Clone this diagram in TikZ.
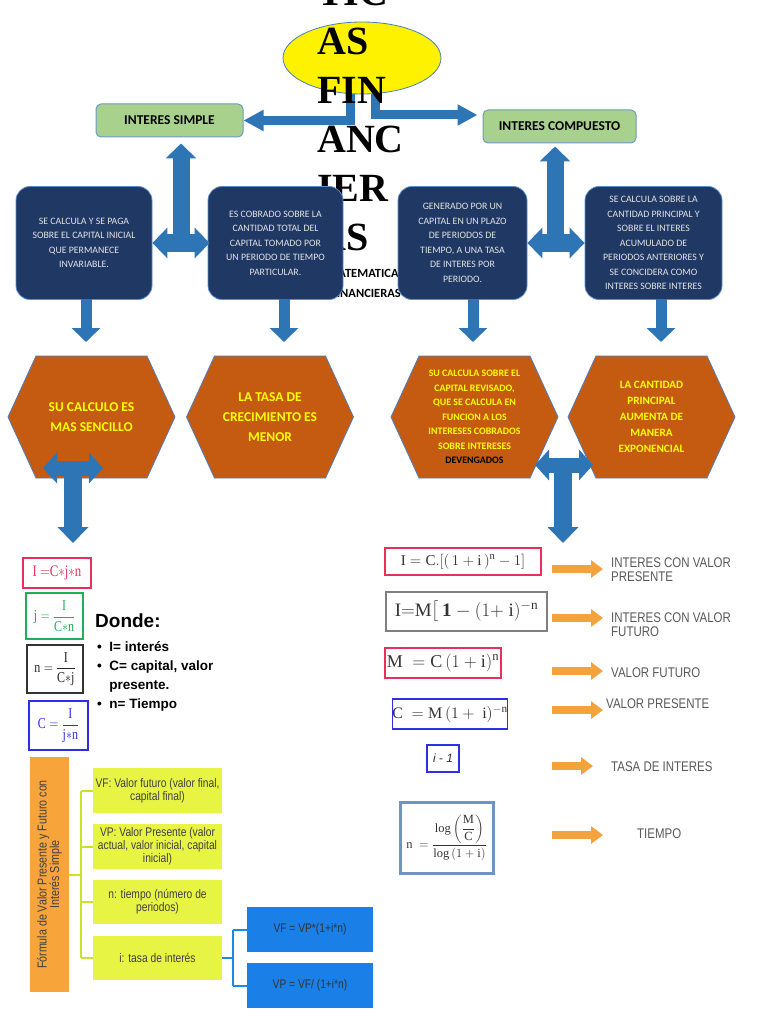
\RequirePackage{fix-cm}
\documentclass[tikz,border=0pt]{standalone}
\usepackage{amsmath}
\usepackage{fontspec}
\usepackage{graphicx}
\usetikzlibrary{arrows.meta,calc,shapes.geometric}
\setmainfont{Liberation Serif}
\newfontfamily\calfont{Carlito}
\newfontfamily\arialf{Liberation Sans}
\newfontfamily\narrowf[FakeStretch=0.82]{Liberation Sans}
\newfontfamily\titlef{Liberation Serif}
\definecolor{arrblue}{HTML}{2E75B6}
\definecolor{navybox}{HTML}{203864}
\definecolor{navybd}{HTML}{5B8FC9}
\definecolor{boxtxt}{HTML}{E4E4E4}
\definecolor{hexor}{HTML}{C55A11}
\definecolor{hexbd}{HTML}{4F7EC0}
\definecolor{hexyel}{HTML}{FFFF00}
\definecolor{grn}{HTML}{A9D18E}
\definecolor{grnbd}{HTML}{6A9BC9}
\definecolor{ellbd}{HTML}{4A7EBB}
\definecolor{orA}{HTML}{F4A23C}
\definecolor{lblgray}{HTML}{595959}
\definecolor{ylwbox}{HTML}{E8F444}
\definecolor{ylwln}{HTML}{C9E22A}
\definecolor{obox}{HTML}{F7A43A}
\definecolor{bbox}{HTML}{1A7FE6}
\definecolor{bln}{HTML}{1E88E5}
\definecolor{fred}{HTML}{E8305A}
\definecolor{fgreen}{HTML}{1FAF5A}
\definecolor{fblue}{HTML}{2E2EE6}
\definecolor{fgray}{HTML}{7F7F7F}
\definecolor{fsteel}{HTML}{7093C6}
\definecolor{ftxt}{HTML}{333333}
\definecolor{treetxt}{HTML}{404040}
\tikzset{
  darkbox/.style={rectangle, rounded corners=14pt, fill=navybox, draw=navybd, line width=0.8pt,
    minimum width=136pt, minimum height=113pt, align=center, text=boxtxt, inner sep=0pt,
    font=\calfont\fontsize{9.8}{14.5}\selectfont},
  hexfill/.style={fill=hexor, draw=hexbd, line width=0.8pt},
  hexnode/.style={align=center, text=hexyel, inner sep=0pt},
  gbox/.style={rectangle, rounded corners=5pt, fill=grn, draw=grnbd, line width=1pt,
    font=\calfont\bfseries\fontsize{13.5}{14}\selectfont, minimum height=33pt},
  upT/.style={draw=arrblue, line width=17pt, -{Triangle[width=30pt,length=15pt]}},
  hT/.style={draw=arrblue, line width=18pt, {Triangle[width=30pt,length=15pt]}-{Triangle[width=30pt,length=15pt]}},
  downT/.style={draw=arrblue, line width=18pt, -{Triangle[width=30pt,length=16pt]}},
  hT2/.style={draw=arrblue, line width=15pt, {Triangle[width=30pt,length=14pt]}-{Triangle[width=30pt,length=14pt]}},
  downA/.style={draw=arrblue, line width=11pt, -{Triangle[width=28pt,length=14pt]}},
  elbow/.style={draw=arrblue, line width=9pt, line join=miter, -{Triangle[width=20pt,length=20pt]}},
  oarrow/.style={draw=orA, line width=8pt, -{Triangle[width=17pt,length=12pt]}},
  fbox/.style={rectangle, draw, line width=1.3pt, inner sep=0pt},
  lbl/.style={text=lblgray, align=left, inner sep=0pt, font=\narrowf\fontsize{14}{14}\selectfont},
  titletxt/.style={anchor=base west, inner sep=0pt, font=\titlef\bfseries\fontsize{40}{40}\selectfont},
  ybox/.style={rectangle, fill=ylwbox, minimum width=129pt, minimum height=45pt, align=center,
    text=treetxt, inner sep=0pt, font=\narrowf\fontsize{12.5}{13}\selectfont},
  bbx/.style={rectangle, fill=bbox, minimum width=126pt, minimum height=45pt,
    text=black!80, inner sep=0pt, font=\narrowf\fontsize{12.5}{13}\selectfont},
  yl/.style={draw=ylwln, line width=2pt},
  bl/.style={draw=bln, line width=2pt}
}
% name, cx, cy, font, text
\newcommand{\hexag}[5]{%
  \begin{scope}[shift={(#2,#3)}]
    \draw[hexfill] (-83.5,0) -- (-55.5,-61) -- (55.5,-61) -- (83.5,0) -- (55.5,61) -- (-55.5,61) -- cycle;
  \end{scope}
  \node[hexnode, font={#4}] (#1) at (#2,#3) {#5};}
\begin{document}
\begin{tikzpicture}[x=1pt,y=-1pt]
\useasboundingbox[fill=white] (0,0) rectangle (768,1024);

% ellipse and elbow arrows
\node[ellipse, draw=ellbd, fill=yellow, line width=0.8pt, minimum width=158pt, minimum height=72pt] (ell) at (362,58) {};
\node[gbox, minimum width=147pt] (simple) at (169.5,120.5) {INTERES SIMPLE};
\node[gbox, minimum width=153pt] (comp) at (559.5,126.5) {INTERES COMPUESTO};
\draw[elbow] ([xshift=-12pt]ell.south) |- (simple.east);
\draw[elbow] ([xshift=13pt]ell.south) |- ($(comp.west)+(-5,-11.5)$);

% big title text
\node[titletxt] (t0) at (317,6) {TIC};
\node[titletxt] (t1) at (317,55) {AS};
\node[titletxt] (t2) at (317,104) {FIN};
\node[titletxt] (t3) at (317,153) {ANC};
\node[titletxt] (t4) at (317,202) {IER};
\node[titletxt] (t5) at (317,250) {AS};
\node[align=center, inner sep=0pt, font=\calfont\bfseries\fontsize{12.5}{20}\selectfont] (mf) at (366,283) {MATEMATICAS\\FINANCIERAS};

% dark boxes
\node[darkbox] (b1) at (84,243) {SE CALCULA Y SE PAGA\\SOBRE EL CAPITAL INICIAL\\QUE PERMANECE\\INVARIABLE.};
\node[darkbox, minimum width=135pt] (b2) at (275.5,243) {ES COBRADO SOBRE LA\\CANTIDAD TOTAL DEL\\CAPITAL TOMADO POR\\UN PERIODO DE TIEMPO\\PARTICULAR.};
\node[darkbox, minimum width=129pt] (b3) at (462.5,243) {GENERADO POR UN\\CAPITAL EN UN PLAZO\\DE PERIODOS DE\\TIEMPO, A UNA TASA\\DE INTERES POR\\PERIODO.};
\node[darkbox, minimum width=137pt] (b4) at (653.5,243) {SE CALCULA SOBRE LA\\CANTIDAD PRINCIPAL Y\\SOBRE EL INTERES\\ACUMULADO DE\\PERIODOS ANTERIORES Y\\SE CONCIDERA COMO\\INTERES SOBRE INTERES};

% T arrows from the green boxes
\coordinate (tl) at (181,240);
\coordinate (tr) at (555,240);
\draw[upT] (tl) -- ($(tl |- simple.south)+(0,6)$);
\draw[hT] (b1.east) -- ($(b2.west)+(2,0)$);
\draw[upT] (tr) -- ($(tr |- comp.south)+(0,3)$);
\draw[hT] (b3.east) -- (b4.west);

% hexagons
\hexag{h1}{91.5}{417}{\calfont\bfseries\fontsize{13.5}{20}\selectfont}{SU CALCULO ES\\MAS SENCILLO}
\hexag{h2}{270}{417}{\calfont\bfseries\fontsize{13.5}{20}\selectfont}{LA TASA DE\\CRECIMIENTO ES\\MENOR}
\hexag{h3}{474.5}{417}{\calfont\bfseries\fontsize{9.9}{14.5}\selectfont}{SU CALCULA SOBRE EL\\CAPITAL REVISADO,\\QUE SE CALCULA EN\\FUNCION A LOS\\INTERESES COBRADOS\\SOBRE INTERESES\\\textcolor{black}{DEVENGADOS}}
\hexag{h4}{651.5}{417}{\calfont\bfseries\fontsize{11.2}{16}\selectfont}{LA CANTIDAD\\PRINCIPAL\\AUMENTA DE\\MANERA\\EXPONENCIAL}

% down arrows from dark boxes to hexagons
\coordinate (d1) at (86,299);  \coordinate (e1) at (86,342);
\coordinate (d2) at (284,299); \coordinate (e2) at (284,342);
\coordinate (d3) at (473,299); \coordinate (e3) at (473,342);
\coordinate (d4) at (661,299); \coordinate (e4) at (661,342);
\draw[downA] (d1) -- (e1);
\draw[downA] (d2) -- (e2);
\draw[downA] (d3) -- (e3);
\draw[downA] (d4) -- (e4);

% lower T arrows
\coordinate (ltL) at (43,468); \coordinate (ltR) at (103,468);
\coordinate (ltC) at (73,468); \coordinate (ltD) at (73,543);
\draw[downT] (ltC) -- (ltD);
\draw[hT2] (ltL) -- (ltR);
\coordinate (rtL) at (535,465); \coordinate (rtR) at (593,465);
\coordinate (rtC) at (563,465); \coordinate (rtD) at (563,543);
\draw[downT] (rtC) -- (rtD);
\draw[hT2] (rtL) -- (rtR);

% left formulas
\node[fbox, draw=fred, text=fred, minimum width=68pt, minimum height=30pt] (fI) at (57,573)
  {\fontsize{16}{16}\selectfont\scalebox{0.8}[1]{$\mathrm{I}\ {=}\mathrm{C}{\ast}\mathrm{j}{\ast}\mathrm{n}$}};
\node[fbox, draw=fgreen, text=fgreen, minimum width=57pt, minimum height=46pt] (fj) at (54.5,616)
  {\fontsize{15}{15}\selectfont\scalebox{0.8}[1]{$\mathrm{j}=\dfrac{\mathrm{I}}{\mathrm{C}{\ast}\mathrm{n}}$}};
\node[fbox, draw=black!80, text=black!85, minimum width=56pt, minimum height=48pt] (fn) at (55,669)
  {\fontsize{15}{15}\selectfont\scalebox{0.8}[1]{$\mathrm{n}=\dfrac{\mathrm{I}}{\mathrm{C}{\ast}\mathrm{j}}$}};
\node[fbox, draw=fblue, text=fblue, minimum width=59pt, minimum height=49pt] (fC) at (58.5,725.5)
  {\fontsize{15}{15}\selectfont\scalebox{0.8}[1]{$\mathrm{C}=\dfrac{\mathrm{I}}{\mathrm{j}{\ast}\mathrm{n}}$}};
\node[anchor=base west, inner sep=0pt, font=\arialf\bfseries\fontsize{19}{19}\selectfont] (donde) at (95,627) {Donde:};
\node[anchor=north west, inner sep=0pt, align=left, font=\arialf\bfseries\fontsize{13.5}{19}\selectfont] (vars) at (97,641)
  {\textbullet\ \ I= interés\\\textbullet\ \ C= capital, valor\\\phantom{\textbullet\ \ }presente.\\\textbullet\ \ n= Tiempo};

% right formulas
\node[fbox, draw=fred, line width=1.5pt, text=ftxt, minimum width=156pt, minimum height=27pt] (g1) at (463,561.5)
  {\fontsize{15}{15}\selectfont$\mathrm{I}=\mathrm{C}.[(\,1+\mathrm{i}\,)^{\mathrm{n}}-1]$};
\node[fbox, draw=fgray, line width=2pt, text=ftxt, minimum width=161pt, minimum height=39pt] (g2) at (466.5,611.5)
  {\fontsize{19}{19}\selectfont$\mathrm{I}{=}\mathrm{M}\bigl[\,\mathbf{1}-(1{+}\ \mathrm{i})^{-\mathrm{n}}$};
\node[fbox, draw=fred, line width=1.5pt, text=ftxt, minimum width=116pt, minimum height=30pt] (g3) at (443,663)
  {\fontsize{18}{18}\selectfont$\mathrm{M}\ =\mathrm{C}\,(1+\mathrm{i})^{\mathrm{n}}$};
\node[fbox, draw=fblue, line width=1.3pt, text=ftxt, minimum width=94pt, minimum height=30pt] (g4) at (450,714)
  {\fontsize{16}{16}\selectfont$\mathrm{C}\ =\mathrm{M}\,(1+\ \mathrm{i})^{-\mathrm{n}}$};
\node[fbox, draw=fblue, line width=1.3pt, text=ftxt, minimum width=32pt, minimum height=27pt] (g5) at (443,758.5)
  {\arialf\itshape\fontsize{12}{12}\selectfont i - 1};
\node[fbox, draw=fsteel, line width=3pt, text=ftxt, minimum width=93pt, minimum height=71pt] (g6) at (446.5,837.5)
  {\fontsize{12.5}{12.5}\selectfont$\mathrm{n}\ =\dfrac{\log\left(\dfrac{\mathrm{M}}{\mathrm{C}}\right)}{\log\,(1+\mathrm{i})}$};

% orange arrows and labels
\coordinate (o1s) at (552,569); \coordinate (o1e) at (603,569);
\coordinate (o2s) at (552,618); \coordinate (o2e) at (603,618);
\coordinate (o3s) at (552,671); \coordinate (o3e) at (603,671);
\coordinate (o4s) at (552,710); \coordinate (o4e) at (603,710);
\coordinate (o5s) at (552,766); \coordinate (o5e) at (593,766);
\coordinate (o6s) at (552,835); \coordinate (o6e) at (603,835);
\draw[oarrow] (o1s) -- (o1e);
\draw[oarrow] (o2s) -- (o2e);
\draw[oarrow] (o3s) -- (o3e);
\draw[oarrow] (o4s) -- (o4e);
\draw[oarrow] (o5s) -- (o5e);
\draw[oarrow] (o6s) -- (o6e);
\node[lbl, anchor=west] (l1) at (611,569.5) {INTERES CON VALOR\\PRESENTE};
\node[lbl, anchor=west] (l2) at (611,624.5) {INTERES CON VALOR\\FUTURO};
\node[lbl, anchor=base west] (l3) at (611,677) {VALOR FUTURO};
\node[lbl, anchor=base west] (l4) at (606,708) {VALOR PRESENTE};
\node[lbl, anchor=base west] (l5) at (611,771) {TASA DE INTERES};
\node[lbl, anchor=base west] (l6) at (637,838) {TIEMPO};

% bottom left tree
\node[rectangle, fill=obox, minimum width=39pt, minimum height=235pt, inner sep=0pt] (ob) at (49.5,874.5) {};
\node[rotate=90, align=center, inner sep=0pt, text=treetxt, font=\narrowf\fontsize{13}{12.5}\selectfont] (obt) at (ob.center)
  {Fórmula de Valor Presente y Futuro con\\Interés Simple};
\node[ybox] (y1) at (157.5,790.5) {VF: Valor futuro (valor final,\\capital final)};
\node[ybox] (y2) at (157.5,846.5) {VP: Valor Presente (valor\\actual, valor inicial, capital\\inicial)};
\node[ybox, minimum height=44pt] (y3) at (157.5,902) {n: tiempo (número de\\periodos)};
\node[ybox, minimum height=44pt] (y4) at (157.5,958) {i: tasa de interés};
\node[bbx] (v1) at (310,929.5) {VF = VP*(1+i*n)};
\node[bbx] (v2) at (310,985.5) {VP = VF/ (1+i*n)};
\coordinate (jx) at (81,0);
\coordinate (kx) at (233,0);
\draw[yl] (ob.east) -- (ob.east -| jx);
\draw[yl] (y1.west -| jx) -- (y4.west -| jx);
\draw[yl] (y1.west -| jx) -- (y1.west);
\draw[yl] (y2.west -| jx) -- (y2.west);
\draw[yl] (y3.west -| jx) -- (y3.west);
\draw[yl] (y4.west -| jx) -- (y4.west);
\draw[bl] (y4.east) -- (y4.east -| kx);
\draw[bl] (v1.west -| kx) -- (v2.west -| kx);
\draw[bl] (v1.west -| kx) -- (v1.west);
\draw[bl] (v2.west -| kx) -- (v2.west);
\end{tikzpicture}
\end{document}
